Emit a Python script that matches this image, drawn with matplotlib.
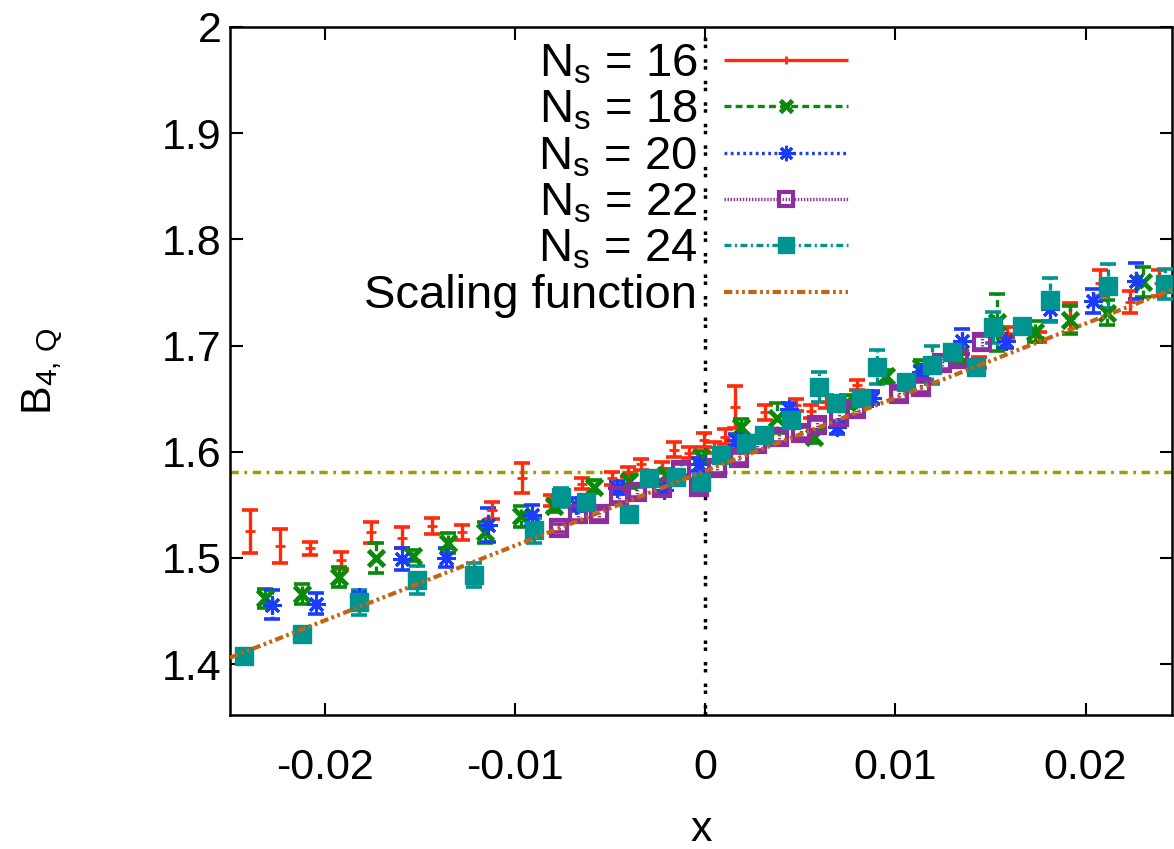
import matplotlib.pyplot as plt
from matplotlib.lines import Line2D

plt.rcParams['font.family'] = ['Liberation Sans', 'DejaVu Sans']
plt.rcParams['mathtext.fontset'] = 'custom'
plt.rcParams['mathtext.rm'] = 'Liberation Sans'
plt.rcParams['mathtext.it'] = 'Liberation Sans:italic'
plt.rcParams['axes.unicode_minus'] = False
plt.rcParams['lines.scale_dashes'] = False

# ---- data ----
x16 = [-0.02396, -0.02238, -0.02079, -0.01917, -0.01759, -0.01596, -0.01438, -0.01281,
       -0.01121, -0.00962, -0.00812, -0.00647, -0.00489, -0.00405, -0.00337, -0.00226,
       -0.00163, -0.00084, -0.00005, 0.00047, 0.00105, 0.00158, 0.00316, 0.00479,
       0.00558, 0.00637, 0.00800, 0.00874, 0.01442, 0.01589, 0.01758, 0.01916,
       0.02074, 0.02232, 0.02389]
y16 = [1.525, 1.511, 1.509, 1.498, 1.524, 1.519, 1.530, 1.524,
       1.545, 1.575, 1.554, 1.570, 1.575, 1.581, 1.588, 1.585,
       1.602, 1.599, 1.611, 1.604, 1.614, 1.642, 1.637, 1.644,
       1.638, 1.647, 1.663, 1.651, 1.684, 1.712, 1.708, 1.726,
       1.759, 1.741, 1.759]
e16 = [0.020, 0.016, 0.006, 0.008, 0.010, 0.010, 0.0075, 0.007,
       0.008, 0.014, 0.005, 0.005, 0.006, 0.005, 0.005, 0.005,
       0.007, 0.005, 0.007, 0.005, 0.007, 0.020, 0.007, 0.006,
       0.006, 0.006, 0.005, 0.005, 0.005, 0.005, 0.005, 0.014,
       0.012, 0.010, 0.012]

x18 = [-0.02316, -0.02121, -0.01926, -0.01732, -0.01537, -0.01353, -0.01158, -0.00968,
       -0.00795, -0.00584, -0.00400, -0.00205, -0.00021, 0.00189, 0.00379, 0.00574,
       0.00747, 0.00953, 0.01137, 0.01337, 0.01532, 0.01732, 0.01916, 0.02111, 0.02300]
y18 = [1.462, 1.466, 1.482, 1.500, 1.502, 1.514, 1.524, 1.539,
       1.549, 1.567, 1.572, 1.578, 1.595, 1.623, 1.632, 1.614,
       1.647, 1.671, 1.680, 1.690, 1.722, 1.713, 1.724, 1.731, 1.760]
e18 = [0.009, 0.009, 0.009, 0.014, 0.005, 0.009, 0.010, 0.010,
       0.006, 0.006, 0.006, 0.006, 0.006, 0.008, 0.014, 0.006,
       0.006, 0.006, 0.006, 0.007, 0.027, 0.010, 0.013, 0.012, 0.014]

x20 = [-0.02279, -0.02047, -0.01821, -0.01595, -0.01363, -0.01142, -0.00911, -0.00679,
       -0.00463, -0.00216, -0.00032, 0.00163, 0.00442, 0.00695, 0.00879, 0.01137,
       0.01353, 0.01584, 0.01811, 0.02037, 0.02268]
y20 = [1.456, 1.457, 1.463, 1.499, 1.500, 1.531, 1.540, 1.550,
       1.566, 1.564, 1.588, 1.611, 1.640, 1.623, 1.651, 1.675,
       1.704, 1.704, 1.734, 1.742, 1.761]
e20 = [0.014, 0.010, 0.006, 0.010, 0.009, 0.016, 0.010, 0.006,
       0.006, 0.006, 0.006, 0.006, 0.006, 0.006, 0.006, 0.006,
       0.012, 0.006, 0.011, 0.011, 0.017]

x22 = [-0.00768, -0.00668, -0.00558, -0.00453, -0.00358, -0.00226, -0.00126, -0.00032,
       0.00063, 0.00179, 0.00274, 0.00389, 0.00505, 0.00589, 0.00705, 0.00795,
       0.01021, 0.01137, 0.01247, 0.01337, 0.01453]
y22 = [1.528, 1.541, 1.541, 1.558, 1.562, 1.566, 1.583, 1.567,
       1.585, 1.594, 1.607, 1.614, 1.618, 1.625, 1.633, 1.640,
       1.654, 1.661, 1.684, 1.687, 1.703]
e22 = [0.004, 0.005, 0.005, 0.005, 0.005, 0.005, 0.005, 0.006,
       0.005, 0.005, 0.005, 0.005, 0.005, 0.005, 0.005, 0.005,
       0.005, 0.005, 0.006, 0.005, 0.006]

x24 = [-0.02426, -0.02121, -0.01821, -0.01516, -0.01216, -0.00900, -0.00758, -0.00626,
       -0.00400, -0.00295, -0.00153, -0.00021, 0.00084, 0.00216, 0.00311, 0.00453,
       0.00600, 0.00689, 0.00821, 0.00905, 0.01058, 0.01195, 0.01300, 0.01426,
       0.01511, 0.01668, 0.01811, 0.02116, 0.02416]
y24 = [1.408, 1.428, 1.458, 1.479, 1.484, 1.526, 1.557, 1.553,
       1.541, 1.575, 1.576, 1.571, 1.597, 1.608, 1.616, 1.630,
       1.661, 1.646, 1.651, 1.680, 1.666, 1.682, 1.694, 1.680,
       1.717, 1.718, 1.743, 1.756, 1.758]
e24 = [0.003, 0.003, 0.012, 0.013, 0.011, 0.012, 0.009, 0.006,
       0.005, 0.006, 0.006, 0.006, 0.006, 0.006, 0.006, 0.006,
       0.014, 0.006, 0.006, 0.016, 0.006, 0.018, 0.006, 0.006,
       0.015, 0.006, 0.021, 0.021, 0.014]

# scaling function, read at a few points
xs_fit = [-0.025, -0.0125, 0.0, 0.0125, 0.0246]
ys_fit = [1.406, 1.494, 1.582, 1.668, 1.753]

b4_crit = 1.581

labels = [r'N$_\mathrm{s}$ = 16', r'N$_\mathrm{s}$ = 18', r'N$_\mathrm{s}$ = 20',
          r'N$_\mathrm{s}$ = 22', r'N$_\mathrm{s}$ = 24']

series = [
    (x16, y16, e16, '#ff2a0a', '+', 7, 2.0, 'full', (0, ()), labels[0]),
    (x18, y18, e18, '#0a8a0a', 'x', 11, 3.5, 'full', (0, (5, 3)), labels[1]),
    (x20, y20, e20, '#1a3cff', (8, 2, 0), 13, 2.2, 'full', (0, (2, 2.5)), labels[2]),
    (x22, y22, e22, '#8e2e9e', 's', 12, 3.0, 'none', (0, (1, 1.2)), labels[3]),
    (x24, y24, e24, '#009490', 's', 13, 1.0, 'full', (0, (5, 2.5, 1.5, 2.5)), labels[4]),
]

fig = plt.figure(figsize=(11.74, 8.49), dpi=100)
ax = fig.add_axes([0.1959, 0.1578, 0.8024, 0.8104])

handles = []
for xs, ys, es, col, mk, ms, mew, fill, ls, lab in series:
    fc = 'none' if fill == 'none' else col
    cont = ax.errorbar(xs, ys, yerr=es, fmt='none', ecolor=col, elinewidth=2.4,
                       capsize=6, capthick=2.6, zorder=3)
    cont[2][0].set_linestyle(ls)
    ax.plot(xs, ys, linestyle='none', marker=mk, markersize=ms, color=col,
            markerfacecolor=fc, markeredgewidth=mew, zorder=4)
    handles.append(Line2D([], [], color=col, lw=2.4, linestyle=ls, marker=mk,
                          markersize=ms * 0.85, markerfacecolor=fc, markeredgewidth=mew))

fit_ls = (0, (6, 2.5, 2, 2.5, 2, 2.5))
ax.plot(xs_fit, ys_fit, color='#c46412', lw=3, linestyle=fit_ls, zorder=5)
handles.append(Line2D([], [], color='#c46412', lw=3, linestyle=fit_ls))

ax.axhline(b4_crit, color='#a09c00', lw=2.5, linestyle=(0, (6, 4, 2, 4)), zorder=2)
ax.axvline(0, color='black', lw=2.5, linestyle=(0, (2.5, 2.5, 2.5, 8)), zorder=2)

ax.set_xlim(-0.025, 0.02455)
ax.set_ylim(1.352, 2.0)
ax.set_xticks([-0.02, -0.01, 0, 0.01, 0.02])
ax.set_xticklabels(['-0.02', '-0.01', '0', '0.01', '0.02'])
ax.set_yticks([1.4, 1.5, 1.6, 1.7, 1.8, 1.9, 2.0])
ax.set_yticklabels(['1.4', '1.5', '1.6', '1.7', '1.8', '1.9', '2'])
ax.tick_params(direction='in', length=9, width=1.5, labelsize=31,
               top=True, right=True)
ax.tick_params(axis='y', pad=6)
ax.tick_params(axis='x', pad=24)
for sp in ax.spines.values():
    sp.set_linewidth(1.8)

ax.set_xlabel('x', fontsize=31)
ax.xaxis.set_label_coords(0.5, -0.138)
ax.set_ylabel(r'B$_{4,\,\mathrm{Q}}$', fontsize=31)
ax.yaxis.set_label_coords(-0.175, 0.5)

leg = ax.legend(handles, labels + ['Scaling function'], loc='upper right',
                bbox_to_anchor=(0.7223, 0.95), bbox_transform=fig.transFigure,
                frameon=False, fontsize=34, markerfirst=False, numpoints=1,
                handlelength=2.62, handletextpad=0.57, labelspacing=0.05,
                borderpad=0, borderaxespad=0)
for col in leg._legend_handle_box.get_children():
    col.align = 'right'

fig.savefig('out.png', dpi=100)
